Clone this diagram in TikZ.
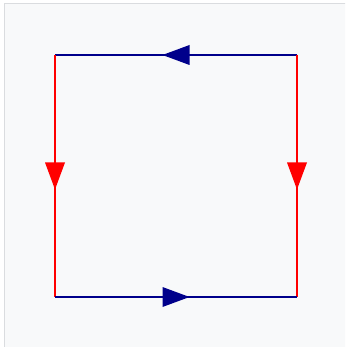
\documentclass[tikz,border=0pt]{standalone}
\usetikzlibrary{decorations.markings}
\definecolor{bg}{HTML}{F8F9FA}
\definecolor{frame}{HTML}{DADCDF}
\definecolor{navy}{HTML}{00008B}
\definecolor{rd}{HTML}{FF0000}
\tikzset{
  side/.style={line width=1.5pt, postaction={decorate}, decoration={markings,
    mark=at position 0.5 with {\fill[#1] (-13.5,10) -- (13.5,0) -- (-13.5,-10) -- cycle;}}},
}
\begin{document}
\begin{tikzpicture}[x=1pt,y=-1pt]
\useasboundingbox (0,0) rectangle (345,347);
\fill[white] (0,0) rectangle (345,347);
\begin{scope}
\clip (0,0) rectangle (345,347);
\draw[frame, fill=bg, line width=1pt] (4,4) rectangle (360,360);
\end{scope}
\coordinate (tl) at (55,55);
\coordinate (tr) at (297,55);
\coordinate (bl) at (55,297);
\coordinate (br) at (297,297);
\draw[side=navy, navy] (tr) -- (tl);
\draw[side=rd, rd] (tl) -- (bl);
\draw[side=rd, rd] (tr) -- (br);
\draw[side=navy, navy] (bl) -- (br);
\end{tikzpicture}
\end{document}
